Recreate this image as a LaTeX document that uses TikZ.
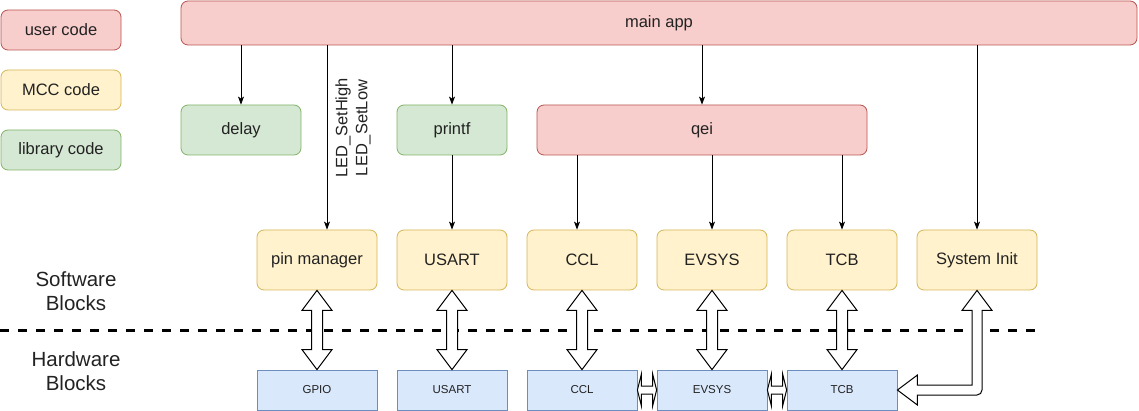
\documentclass[tikz,border=0pt]{standalone}
\usepackage{fontspec}
\setmainfont{Liberation Sans}
\usepackage{xcolor}
\usetikzlibrary{arrows.meta, positioning, calc}
\definecolor{UserFill}{HTML}{F8CECC}
\definecolor{UserLine}{HTML}{B85450}
\definecolor{MccFill}{HTML}{FFF2CC}
\definecolor{MccLine}{HTML}{D6B656}
\definecolor{LibFill}{HTML}{D5E8D4}
\definecolor{LibLine}{HTML}{82B366}
\definecolor{HwFill}{HTML}{DAE8FC}
\definecolor{HwLine}{HTML}{6C8EBF}
\definecolor{Ink}{HTML}{222222}
% vertical hollow double arrow between two stacked blocks
\newcommand{\flexv}[2]{%
    \draw[flexarrow] (#1.south) -- ([shift={(15,20)}]#1.south) -- ([shift={(5.5,20)}]#1.south)
        -- ([shift={(5.5,-20)}]#2.north) -- ([shift={(15,-20)}]#2.north) -- (#2.north)
        -- ([shift={(-15,-20)}]#2.north) -- ([shift={(-5.5,-20)}]#2.north)
        -- ([shift={(-5.5,20)}]#1.south) -- ([shift={(-15,20)}]#1.south) -- cycle;}
% short horizontal hollow double arrow between neighbours
\newcommand{\flexh}[2]{%
    \draw[flexarrow] (#1.east) -- ([shift={(4,-16)}]#1.east) -- ([shift={(4,-4)}]#1.east)
        -- ([shift={(-4,-4)}]#2.west) -- ([shift={(-4,-16)}]#2.west) -- (#2.west)
        -- ([shift={(-4,16)}]#2.west) -- ([shift={(-4,4)}]#2.west)
        -- ([shift={(4,4)}]#1.east) -- ([shift={(4,16)}]#1.east) -- cycle;}

\begin{document}
\begin{tikzpicture}[x=1pt, y=-1pt,
    box/.style={rectangle, rounded corners=7pt, draw, line width=0.8pt,
                text=Ink, font=\fontsize{16.5}{19}\selectfont, inner sep=0pt},
    usercode/.style={box, fill=UserFill, draw=UserLine},
    mcccode/.style={box, fill=MccFill, draw=MccLine},
    libcode/.style={box, fill=LibFill, draw=LibLine},
    hwblock/.style={rectangle, draw=HwLine, fill=HwFill, line width=0.8pt,
                    text=Ink, font=\fontsize{11.5}{13}\selectfont,
                    minimum height=40, inner sep=0pt},
    call/.style={-{Stealth[length=8pt, width=6pt, inset=2pt]}, line width=0.8pt},
    flexarrow/.style={draw=black, fill=white, line width=1pt, line join=miter},
    layer/.style={text=Ink, font=\fontsize{20.5}{24}\selectfont, align=center}]

    \useasboundingbox (0,0) rectangle (1139,411);

    % Legend
    \node[usercode, minimum width=120, minimum height=40] (leguser) at (61,30) {user code};
    \node[mcccode, minimum width=120, minimum height=40] (legmcc) at (61,90) {MCC code};
    \node[libcode, minimum width=120, minimum height=40] (leglib) at (61,150) {library code};

    % Application layer
    \node[usercode, minimum width=956, minimum height=44] (app) at (659,23) {main app};
    \node[libcode, minimum width=120, minimum height=50] (delay) at (241,130) {delay};
    \node[libcode, minimum width=110, minimum height=50] (printf) at (452,130) {printf};
    \node[usercode, minimum width=330, minimum height=50] (qei) at (702,130) {qei};

    % Software blocks
    \node[mcccode, minimum width=120, minimum height=60] (pin) at (317,260) {pin manager};
    \node[mcccode, minimum width=110, minimum height=60] (usartsw) at (452,260) {USART};
    \node[mcccode, minimum width=110, minimum height=60] (cclsw) at (582,260) {CCL};
    \node[mcccode, minimum width=110, minimum height=60] (evsyssw) at (712,260) {EVSYS};
    \node[mcccode, minimum width=110, minimum height=60] (tcbsw) at (842,260) {TCB};
    \node[mcccode, minimum width=120, minimum height=60] (sysinit) at (977,260) {System Init};

    % Hardware blocks
    \node[hwblock, minimum width=120] (gpio) at (317,390) {GPIO};
    \node[hwblock, minimum width=110] (usarthw) at (452,390) {USART};
    \node[hwblock, minimum width=110] (cclhw) at (582,390) {CCL};
    \node[hwblock, minimum width=110] (evsyshw) at (712,390) {EVSYS};
    \node[hwblock, minimum width=110] (tcbhw) at (842,390) {TCB};

    % Layer split
    \node[layer] (swlabel) at (76,291) {Software\\Blocks};
    \node[layer] (hwlabel) at (76,371) {Hardware\\Blocks};
    \coordinate (splitL) at (0,330);
    \coordinate (splitR) at (1037,330);
    \draw[line width=3pt, dash pattern=on 9pt off 9pt] (splitL) -- (splitR);

    % Calls from main app
    \draw[call] (app.south -| delay.north) -- (delay.north);
    \coordinate (pinin) at ([xshift=10]pin.north);
    \draw[call] (app.south -| pinin) -- (pinin);
    \node[text=Ink, font=\fontsize{16.5}{20}\selectfont, rotate=90, align=center]
        (ledcalls) at (353,128) {LED\_SetHigh\\LED\_SetLow};
    \draw[call] (app.south -| printf.north) -- (printf.north);
    \draw[call] (app.south -| qei.north) -- (qei.north);
    \draw[call] (app.south -| sysinit.north) -- (sysinit.north);

    % Calls into the drivers
    \draw[call] (printf.south) -- (usartsw.north);
    \coordinate (cclin) at ([xshift=-5]cclsw.north);
    \draw[call] (qei.south -| cclin) -- (cclin);
    \draw[call] (qei.south -| evsyssw.north) -- (evsyssw.north);
    \draw[call] (qei.south -| tcbsw.north) -- (tcbsw.north);

    % Driver <-> peripheral
    \flexv{pin}{gpio}
    \flexv{usartsw}{usarthw}
    \flexv{cclsw}{cclhw}
    \flexv{evsyssw}{evsyshw}
    \flexv{tcbsw}{tcbhw}
    \flexh{cclhw}{evsyshw}
    \flexh{evsyshw}{tcbhw}

    % System Init reaches the TCB peripheral
    \coordinate (bend) at (sysinit.south |- tcbhw.east);
    \draw[flexarrow] (sysinit.south) -- ([shift={(15,20)}]sysinit.south)
        -- ([shift={(5,20)}]sysinit.south)
        [rounded corners=5pt] -- ([shift={(5,5)}]bend) [sharp corners]
        -- ([shift={(20,5)}]tcbhw.east) -- ([shift={(20,15)}]tcbhw.east) -- (tcbhw.east)
        -- ([shift={(20,-15)}]tcbhw.east) -- ([shift={(20,-5)}]tcbhw.east)
        -- ([shift={(-5,-5)}]bend) -- ([shift={(-5,20)}]sysinit.south)
        -- ([shift={(-15,20)}]sysinit.south) -- cycle;
\end{tikzpicture}
\end{document}
